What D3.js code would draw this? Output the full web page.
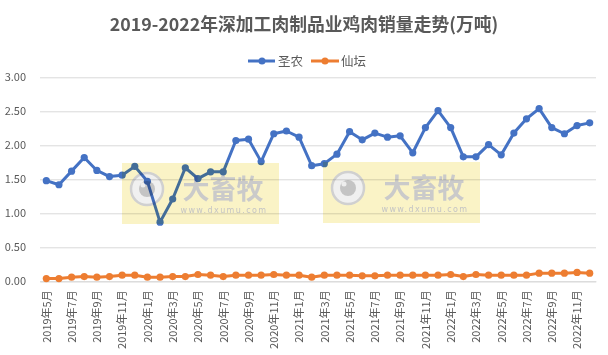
<!DOCTYPE html>
<html><head><meta charset="utf-8">
<script src="https://cdn.jsdelivr.net/npm/d3@7/dist/d3.min.js"></script>
<style>
html,body{margin:0;padding:0;background:#fff;}
svg{display:block;font-family:"Microsoft YaHei","Noto Sans CJK SC",sans-serif;}
</style></head>
<body><svg id="c" width="608" height="355"></svg>
<script>
const months = ["2019年5月","2019年6月","2019年7月","2019年8月","2019年9月","2019年10月","2019年11月","2019年12月",
"2020年1月","2020年2月","2020年3月","2020年4月","2020年5月","2020年6月","2020年7月","2020年8月","2020年9月","2020年10月","2020年11月","2020年12月",
"2021年1月","2021年2月","2021年3月","2021年4月","2021年5月","2021年6月","2021年7月","2021年8月","2021年9月","2021年10月","2021年11月","2021年12月",
"2022年1月","2022年2月","2022年3月","2022年4月","2022年5月","2022年6月","2022年7月","2022年8月","2022年9月","2022年10月","2022年11月","2022年12月"];
const shengnong = [1.48,1.42,1.62,1.82,1.63,1.54,1.56,1.69,1.47,0.87,1.21,1.67,1.51,1.61,1.61,2.07,2.09,1.76,2.17,2.21,2.12,1.70,1.73,1.87,2.20,2.08,2.18,2.12,2.14,1.89,2.26,2.51,2.26,1.83,1.83,2.01,1.86,2.18,2.39,2.54,2.26,2.17,2.29,2.33];
const xiantan = [0.04,0.04,0.06,0.07,0.06,0.07,0.09,0.09,0.06,0.06,0.07,0.07,0.10,0.09,0.07,0.09,0.09,0.09,0.10,0.09,0.09,0.06,0.09,0.09,0.09,0.08,0.08,0.09,0.09,0.09,0.09,0.09,0.10,0.07,0.10,0.09,0.09,0.09,0.09,0.12,0.12,0.12,0.13,0.12];
const yTicks = [0,0.5,1,1.5,2,2.5,3];
const seriesNames = ["圣农","仙坛"];
const colors = ["#4472C4","#ED7D31"];
const title = "2019-2022年深加工肉制品业鸡肉销量走势(万吨)";

const svg = d3.select("#c");
const x = d3.scalePoint().domain(months).range([40,596]).padding(0.5);
const y = d3.scaleLinear().domain([0,3]).range([281.3,77.3]);

// title
svg.append("text").attr("x",304).attr("y",31).attr("text-anchor","middle")
  .attr("font-size",17.8).attr("font-weight","bold").attr("fill","#595959").text(title);

// legend
const lg = svg.append("g");
[[248,262,275,278],[311,325,339,341]].forEach((p,i)=>{
  lg.append("line").attr("x1",p[0]).attr("x2",p[2]).attr("y1",61).attr("y2",61)
    .attr("stroke",colors[i]).attr("stroke-width",3);
  lg.append("circle").attr("cx",p[1]).attr("cy",61).attr("r",3.5).attr("fill",colors[i]);
  lg.append("text").attr("x",p[3]).attr("y",65.5).attr("font-size",12.5).attr("fill","#595959").text(seriesNames[i]);
});

// grid + y axis
const yAxis = d3.axisLeft(y).tickValues(yTicks).tickFormat(d3.format(".2f")).tickSize(-556).tickPadding(14);
const gy = svg.append("g").attr("transform","translate(40,0)").call(yAxis);
gy.select(".domain").remove();
gy.selectAll(".tick line").attr("stroke","#d9d9d9").attr("stroke-width",1);
gy.selectAll(".tick text").attr("font-size",11).attr("fill","#595959")
  .attr("font-family","'Microsoft YaHei','Noto Sans CJK SC',sans-serif");

// x axis
const xAxis = d3.axisBottom(x).tickValues(months.filter((d,i)=>i%2===0)).tickSize(0).tickPadding(0);
const gx = svg.append("g").attr("transform","translate(0,281.3)").call(xAxis);
gx.select(".domain").attr("stroke","#d9d9d9");
gx.selectAll(".tick text").attr("font-size",11).attr("fill","#595959")
  .attr("font-family","'Microsoft YaHei','Noto Sans CJK SC',sans-serif")
  .attr("text-anchor","end").attr("transform","rotate(-90)")
  .attr("x",-9).attr("y",0).attr("dy","0.35em");

// lines
const line = d3.line().x((d,i)=>x(months[i])).y(d=>y(d));
[shengnong,xiantan].forEach((s,k)=>{
  svg.append("path").datum(s).attr("d",line).attr("fill","none")
    .attr("stroke",colors[k]).attr("stroke-width",3).attr("stroke-linejoin","round");
  svg.append("g").selectAll("circle").data(s).join("circle")
    .attr("cx",(d,i)=>x(months[i])).attr("cy",d=>y(d)).attr("r",3.6).attr("fill",colors[k]);
});

// watermarks
[[122,163],[323,162]].forEach(([wx,wy])=>{
  const g = svg.append("g").style("mix-blend-mode","multiply");
  g.append("rect").attr("x",wx).attr("y",wy).attr("width",157).attr("height",61).attr("fill","#faf3c6");
  g.append("circle").attr("cx",wx+25).attr("cy",wy+26).attr("r",16).attr("fill","#f0f0f0").attr("stroke","#d0d0d0").attr("stroke-width",2.5);
  g.append("circle").attr("cx",wx+25).attr("cy",wy+26).attr("r",8).attr("fill","#c4c4c4");
  g.append("circle").attr("cx",wx+21).attr("cy",wy+22).attr("r",2.5).attr("fill","#eeeeee");
  g.append("text").attr("x",wx+101).attr("y",wy+36).attr("text-anchor","middle").attr("font-size",27)
    .attr("font-weight","bold").attr("fill","#cacaca").text("大畜牧");
  g.append("text").attr("x",wx+102).attr("y",wy+50).attr("text-anchor","middle").attr("font-size",8)
    .attr("letter-spacing",1.4).attr("fill","#c4c4c4").attr("font-family","'DejaVu Sans',sans-serif").text("www.dxumu.com");
});
</script></body></html>
